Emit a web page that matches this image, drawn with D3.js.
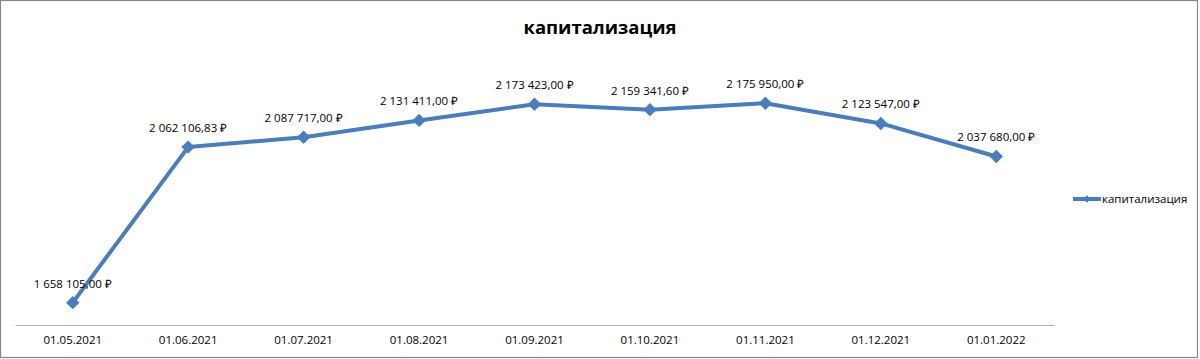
<!DOCTYPE html>
<html><head><meta charset="utf-8">
<script src="https://cdn.jsdelivr.net/npm/d3@7"></script>
<style>html,body{margin:0;padding:0;background:#fff;}svg{display:block;}</style>
</head><body>
<svg id="c" width="1200" height="359"></svg>
<script>
const categories = ["01.05.2021","01.06.2021","01.07.2021","01.08.2021","01.09.2021","01.10.2021","01.11.2021","01.12.2021","01.01.2022"];
const values = [1658105.00, 2062106.83, 2087717.00, 2131411.00, 2173423.00, 2159341.60, 2175950.00, 2123547.00, 2037680.00];
const seriesName = "капитализация";
const titleText = "капитализация";

const svg = d3.select("#c");
const W = 1200, H = 359;
const color = "#4a7ebb";
const font = "'Open Sans', 'Liberation Sans', sans-serif";

svg.append("rect").attr("x",0.5).attr("y",0.5).attr("width",W-3).attr("height",H-2)
  .attr("fill","#fff").attr("stroke","#868686").attr("stroke-width",1.2);

const x = d3.scaleBand().domain(categories).range([15,1054]).padding(0);
const y = d3.scaleLinear().domain([1600000,2200000]).range([325,94]);

svg.append("text").attr("x",600).attr("y",34).attr("text-anchor","middle")
  .attr("font-family",font).attr("font-weight","bold").attr("font-size",18.5).attr("fill","#000")
  .text(titleText);

const xAxis = svg.append("g").attr("transform","translate(0,325)")
  .call(d3.axisBottom(x).tickSize(0).tickPadding(11));
xAxis.select(".domain").attr("stroke","#b3b3b3").attr("stroke-width",1);
xAxis.selectAll("text").attr("font-family",font).attr("font-size",11.5).attr("fill","#000");

const cx = d => x(d) + x.bandwidth()/2;
const line = d3.line().x((d,i)=>cx(categories[i])).y(d=>y(d));
svg.append("path").datum(values).attr("d",line).attr("fill","none")
  .attr("stroke",color).attr("stroke-width",4).attr("stroke-linejoin","round");

const diamond = d3.symbol().type(d3.symbolSquare).size(72);
svg.selectAll(".m").data(values).enter().append("path")
  .attr("d",diamond)
  .attr("transform",(d,i)=>`translate(${cx(categories[i])},${y(d)}) rotate(45)`)
  .attr("fill",color).attr("stroke",color).attr("stroke-width",1);

const loc = d3.formatLocale({decimal:",",thousands:"\u00a0",grouping:[3],currency:["","\u00a0₽"]});
const fmt = loc.format("$,.2f");
svg.selectAll(".lbl").data(values).enter().append("text")
  .attr("x",(d,i)=>cx(categories[i])).attr("y",d=>y(d)-15)
  .attr("text-anchor","middle").attr("font-family",font).attr("font-size",11.5).attr("fill","#000")
  .text(d=>fmt(d));

const lg = svg.append("g").attr("transform","translate(1073,199)");
lg.append("line").attr("x1",0).attr("x2",28).attr("y1",0).attr("y2",0).attr("stroke",color).attr("stroke-width",4);
lg.append("path").attr("d",d3.symbol().type(d3.symbolSquare).size(30)).attr("transform","translate(14,0) rotate(45)").attr("fill",color);
lg.append("text").attr("x",29).attr("y",4).attr("font-family",font).attr("font-size",11.5).attr("fill","#000").text(seriesName);
</script>
</body></html>
